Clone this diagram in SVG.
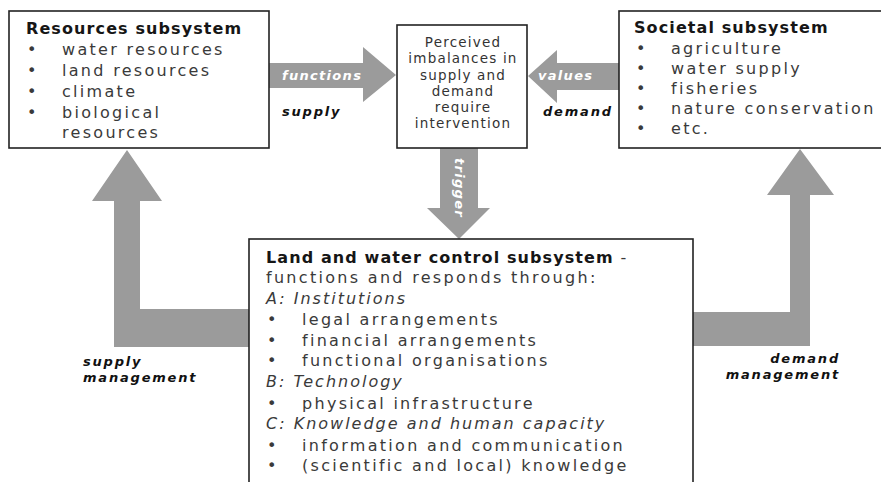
<svg xmlns="http://www.w3.org/2000/svg" width="881" height="482" viewBox="0 0 881 482">
<style>
.box{fill:#fff;stroke:#222;stroke-width:1.6}
.arr{fill:#9b9b9b}
.t{font-family:"DejaVu Sans",sans-serif;font-size:16px;fill:#3a3a3a;letter-spacing:2.3px}
.ti{font-family:"DejaVu Sans",sans-serif;font-size:16px;fill:#3a3a3a;letter-spacing:2px;font-style:italic}
.h{font-family:"DejaVu Sans",sans-serif;font-size:16px;font-weight:bold;fill:#161616;letter-spacing:1.1px}
.m{font-family:"DejaVu Sans",sans-serif;font-size:13.5px;fill:#333;letter-spacing:1.2px;text-anchor:middle}
.lb{font-family:"DejaVu Sans",sans-serif;font-size:13px;font-weight:bold;font-style:italic;fill:#111;letter-spacing:1.8px}
.lw{font-family:"DejaVu Sans",sans-serif;font-size:13px;font-weight:bold;font-style:italic;fill:#fff;letter-spacing:1.3px}
</style>
<rect width="881" height="482" fill="#fff"/>
<g id="connectors">
  <polygon class="arr" points="269,63 363,63 363,47 396,75 363,102 363,88 269,88"/>
  <polygon class="arr" points="620,63 557,63 557,50 528,76 557,103 557,90 620,90"/>
  <polygon class="arr" points="440,148 478,148 478,208 490,208 459,239 427,208 440,208"/>
  <polygon class="arr" points="249,309 140,309 140,201 162,201 127,150 92,201 114,201 114,347 249,347"/>
  <polygon class="arr" points="693,312 790,312 790,195 767,195 800,149 834,195 810,195 810,346 693,346"/>
  <text class="lw" x="282" y="80">functions</text>
  <text class="lb" x="282" y="116">supply</text>
  <text class="lw" x="538" y="80">values</text>
  <text class="lb" x="543" y="116">demand</text>
  <text class="lw" x="0" y="0" transform="translate(455,188) rotate(90)" text-anchor="middle">trigger</text>
  <text class="lb" x="83" y="366">supply</text>
  <text class="lb" x="83" y="382">management</text>
  <text class="lb" x="840" y="363" text-anchor="end">demand</text>
  <text class="lb" x="840" y="379" text-anchor="end">management</text>
</g>
<g id="resources">
  <rect class="box" x="9" y="11" width="260" height="137"/>
  <text class="h" x="26" y="34">Resources subsystem</text>
  <text class="t" x="27" y="55">•</text><text class="t" x="62" y="55">water resources</text>
  <text class="t" x="27" y="76">•</text><text class="t" x="62" y="76">land resources</text>
  <text class="t" x="27" y="97">•</text><text class="t" x="62" y="97">climate</text>
  <text class="t" x="27" y="118">•</text><text class="t" x="62" y="118">biological</text>
  <text class="t" x="62" y="138">resources</text>
</g>
<g id="imbalances">
  <rect class="box" x="397" y="25" width="130" height="123"/>
  <text class="m" x="463" y="47">Perceived</text>
  <text class="m" x="463" y="63">imbalances in</text>
  <text class="m" x="463" y="79.5">supply and</text>
  <text class="m" x="463" y="95.5">demand</text>
  <text class="m" x="463" y="112">require</text>
  <text class="m" x="463" y="128">intervention</text>
</g>
<g id="societal">
  <rect class="box" x="619" y="11" width="270" height="137"/>
  <text class="h" x="634" y="33">Societal subsystem</text>
  <text class="t" x="636" y="54">•</text><text class="t" x="671" y="54">agriculture</text>
  <text class="t" x="636" y="74">•</text><text class="t" x="671" y="74">water supply</text>
  <text class="t" x="636" y="94">•</text><text class="t" x="671" y="94">fisheries</text>
  <text class="t" x="636" y="114">•</text><text class="t" x="671" y="114">nature conservation</text>
  <text class="t" x="636" y="134">•</text><text class="t" x="671" y="134">etc.</text>
</g>
<g id="control">
  <rect class="box" x="249" y="239" width="444" height="260"/>
  <text class="h" x="266" y="263">Land and water control subsystem <tspan font-weight="normal" fill="#3a3a3a">-</tspan></text>
  <text class="t" x="266" y="283">functions and responds through:</text>
  <text class="ti" x="266" y="304">A: Institutions</text>
  <text class="t" x="267" y="325">•</text><text class="t" x="302" y="325">legal arrangements</text>
  <text class="t" x="267" y="346">•</text><text class="t" x="302" y="346">financial arrangements</text>
  <text class="t" x="267" y="366">•</text><text class="t" x="302" y="366">functional organisations</text>
  <text class="ti" x="266" y="387">B: Technology</text>
  <text class="t" x="267" y="409">•</text><text class="t" x="302" y="409">physical infrastructure</text>
  <text class="ti" x="266" y="429">C: Knowledge and human capacity</text>
  <text class="t" x="267" y="451">•</text><text class="t" x="302" y="451">information and communication</text>
  <text class="t" x="267" y="471">•</text><text class="t" x="302" y="471">(scientific and local) knowledge</text>
</g>
</svg>
